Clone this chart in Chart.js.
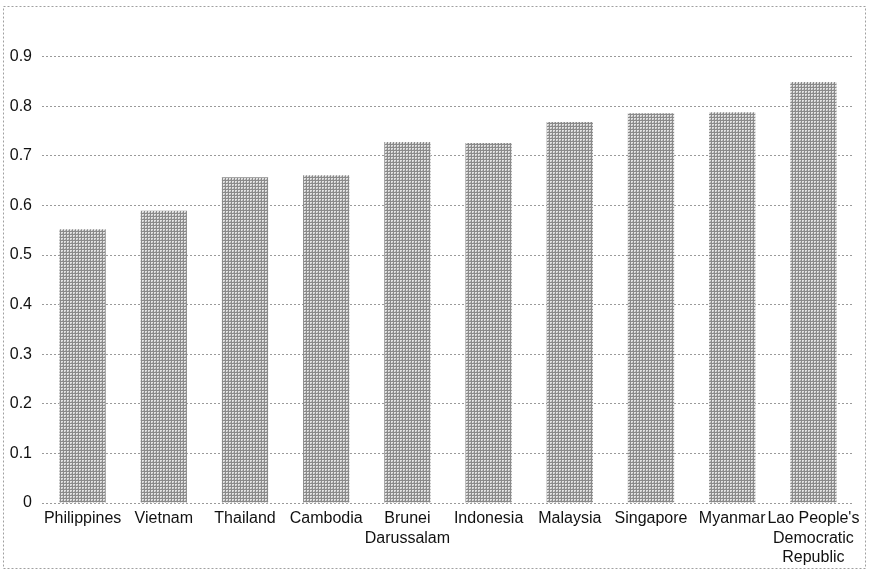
<!DOCTYPE html>
<html>
<head>
<meta charset="utf-8">
<script src="https://cdn.jsdelivr.net/npm/chart.js@4"></script>
<style>
  html, body { margin: 0; padding: 0; background: #fff; }
  #wrap { width: 870px; height: 574px; }
</style>
</head>
<body>
<div id="wrap"><canvas id="myChart" width="870" height="574"></canvas></div>
<script>
// countries along the x axis (multi-line where the label wraps)
const countries = [
  'Philippines', 'Vietnam', 'Thailand', 'Cambodia',
  ['Brunei', 'Darussalam'], 'Indonesia', 'Malaysia', 'Singapore',
  'Myanmar', ["Lao People's", 'Democratic', 'Republic']
];
const scores = [0.552, 0.589, 0.657, 0.661, 0.728, 0.726, 0.768, 0.786, 0.788, 0.849];
const yTicks = [0, 0.1, 0.2, 0.3, 0.4, 0.5, 0.6, 0.7, 0.8, 0.9];

// stippled grey fill for the bars
function stipple() {
  const c = document.createElement('canvas');
  c.width = 3; c.height = 3;
  const g = c.getContext('2d');
  g.fillStyle = '#e2e2e2';
  g.fillRect(0, 0, 3, 3);
  g.fillStyle = '#8a8a8a';
  g.fillRect(0, 0, 3, 1);
  g.fillRect(0, 0, 1, 3);
  g.fillStyle = '#b5b5b5';
  g.fillRect(2, 2, 1, 1);
  return c.getContext('2d').createPattern(c, 'repeat');
}

// dotted frame around the whole figure
const frame = {
  id: 'frame',
  afterDraw(chart) {
    const ctx = chart.ctx;
    ctx.save();
    ctx.strokeStyle = '#a0a0a0';
    ctx.lineWidth = 1;
    ctx.setLineDash([2, 2]);
    ctx.strokeRect(3.5, 6.5, 862, 562);
    ctx.restore();
  }
};

const font = '"Liberation Sans", Arial, sans-serif';
const ctx = document.getElementById('myChart');

new Chart(ctx, {
  type: 'bar',
  data: {
    labels: countries,
    datasets: [{
      data: scores,
      backgroundColor: stipple(),
      borderWidth: 0,
      categoryPercentage: 1,
      barPercentage: 0.57
    }]
  },
  options: {
    responsive: false,
    animation: false,
    layout: { padding: { left: 4, right: 16, top: 7, bottom: 0 } },
    plugins: {
      legend: { display: false },
      tooltip: { enabled: false }
    },
    scales: {
      x: {
        grid: { display: false, drawTicks: false },
        border: { display: false },
        ticks: {
          color: '#111',
          font: { family: font, size: 16, lineHeight: 1.22 },
          maxRotation: 0,
          autoSkip: false,
          padding: 6
        },
        afterFit(scale) { scale.height = 574 - 503; }
      },
      y: {
        min: 0,
        max: 1,
        afterBuildTicks(scale) {
          scale.ticks = yTicks.concat([1]).map(v => ({ value: v }));
        },
        grid: {
          color: (c) => c.tick && c.tick.value === 1 ? 'rgba(0,0,0,0)' : '#9a9a9a',
          lineWidth: 1,
          drawTicks: false
        },
        border: { display: false, dash: [2, 2] },
        ticks: {
          color: '#111',
          font: { family: font, size: 16 },
          padding: 10,
          callback: (v) => v === 1 ? '' : String(Math.round(v * 10) / 10)
        },
        afterFit(scale) {
          scale.width = 38;
          scale.paddingTop = 0;
          scale.paddingBottom = 0;
        }
      }
    }
  },
  plugins: [frame]
});
</script>
</body>
</html>
